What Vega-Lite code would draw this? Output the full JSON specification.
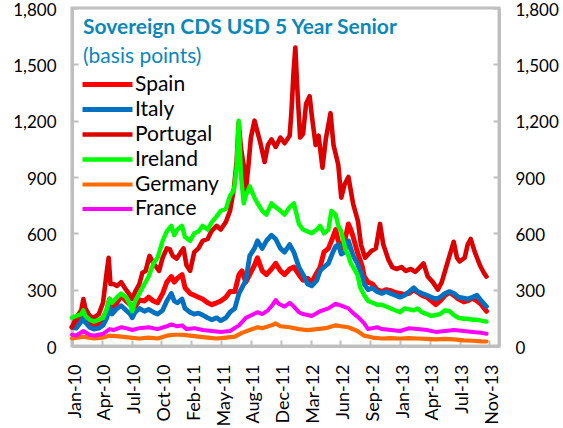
{
"$schema": "https://vega.github.io/schema/vega-lite/v6.json",
"width": 427, "height": 338,
"autosize": {"type": "none"},
"padding": {"left": 72, "top": 8, "right": 64, "bottom": 82},
"background": "white",
"config": {"view": {"stroke": "#BFBFBF", "strokeWidth": 3}, "font": "Lato"},
"title": {"text": "Sovereign CDS USD 5 Year Senior", "subtitle": "(basis points)", "anchor": "start", "frame": "group", "orient": "top", "offset": -66, "dx": 11, "font": "Lato", "fontSize": 21, "fontWeight": "bold", "color": "#0B87B8", "subtitleFont": "Lato", "subtitleFontSize": 21, "subtitleColor": "#0B87B8", "subtitlePadding": 8},
"data": {"values": [
{"d":"2010-01-01","c":"Spain","v":100},{"d":"2010-01-15","c":"Spain","v":110},{"d":"2010-02-01","c":"Spain","v":150},{"d":"2010-02-08","c":"Spain","v":170},{"d":"2010-02-15","c":"Spain","v":140},{"d":"2010-03-01","c":"Spain","v":120},{"d":"2010-03-15","c":"Spain","v":110},{"d":"2010-04-01","c":"Spain","v":120},{"d":"2010-04-15","c":"Spain","v":150},{"d":"2010-04-28","c":"Spain","v":190},{"d":"2010-05-07","c":"Spain","v":250},{"d":"2010-05-15","c":"Spain","v":200},{"d":"2010-06-01","c":"Spain","v":230},{"d":"2010-06-15","c":"Spain","v":270},{"d":"2010-07-01","c":"Spain","v":240},{"d":"2010-07-15","c":"Spain","v":220},{"d":"2010-08-01","c":"Spain","v":210},{"d":"2010-08-15","c":"Spain","v":245},{"d":"2010-09-01","c":"Spain","v":240},{"d":"2010-09-15","c":"Spain","v":260},{"d":"2010-10-01","c":"Spain","v":240},{"d":"2010-10-15","c":"Spain","v":230},{"d":"2010-11-01","c":"Spain","v":280},{"d":"2010-11-15","c":"Spain","v":340},{"d":"2010-11-30","c":"Spain","v":370},{"d":"2010-12-10","c":"Spain","v":340},{"d":"2010-12-20","c":"Spain","v":360},{"d":"2011-01-05","c":"Spain","v":380},{"d":"2011-01-15","c":"Spain","v":310},{"d":"2011-02-01","c":"Spain","v":280},{"d":"2011-02-15","c":"Spain","v":270},{"d":"2011-03-01","c":"Spain","v":260},{"d":"2011-03-15","c":"Spain","v":250},{"d":"2011-04-01","c":"Spain","v":230},{"d":"2011-04-15","c":"Spain","v":220},{"d":"2011-05-01","c":"Spain","v":230},{"d":"2011-05-15","c":"Spain","v":240},{"d":"2011-06-01","c":"Spain","v":260},{"d":"2011-06-15","c":"Spain","v":290},{"d":"2011-07-01","c":"Spain","v":290},{"d":"2011-07-15","c":"Spain","v":380},{"d":"2011-07-25","c":"Spain","v":400},{"d":"2011-08-07","c":"Spain","v":340},{"d":"2011-08-20","c":"Spain","v":380},{"d":"2011-09-05","c":"Spain","v":430},{"d":"2011-09-15","c":"Spain","v":470},{"d":"2011-10-01","c":"Spain","v":400},{"d":"2011-10-15","c":"Spain","v":380},{"d":"2011-11-01","c":"Spain","v":410},{"d":"2011-11-15","c":"Spain","v":440},{"d":"2011-12-01","c":"Spain","v":400},{"d":"2011-12-15","c":"Spain","v":380},{"d":"2012-01-01","c":"Spain","v":410},{"d":"2012-01-15","c":"Spain","v":420},{"d":"2012-02-01","c":"Spain","v":380},{"d":"2012-02-15","c":"Spain","v":350},{"d":"2012-03-01","c":"Spain","v":360},{"d":"2012-03-15","c":"Spain","v":340},{"d":"2012-04-01","c":"Spain","v":390},{"d":"2012-04-12","c":"Spain","v":420},{"d":"2012-04-25","c":"Spain","v":500},{"d":"2012-05-10","c":"Spain","v":520},{"d":"2012-05-25","c":"Spain","v":580},{"d":"2012-06-03","c":"Spain","v":620},{"d":"2012-06-12","c":"Spain","v":560},{"d":"2012-06-22","c":"Spain","v":520},{"d":"2012-07-05","c":"Spain","v":570},{"d":"2012-07-16","c":"Spain","v":650},{"d":"2012-07-24","c":"Spain","v":620},{"d":"2012-08-01","c":"Spain","v":580},{"d":"2012-08-15","c":"Spain","v":500},{"d":"2012-09-01","c":"Spain","v":420},{"d":"2012-09-07","c":"Spain","v":370},{"d":"2012-09-20","c":"Spain","v":340},{"d":"2012-10-05","c":"Spain","v":330},{"d":"2012-10-20","c":"Spain","v":300},{"d":"2012-11-05","c":"Spain","v":290},{"d":"2012-11-20","c":"Spain","v":300},{"d":"2012-12-05","c":"Spain","v":295},{"d":"2012-12-20","c":"Spain","v":285},{"d":"2013-01-05","c":"Spain","v":280},{"d":"2013-01-20","c":"Spain","v":275},{"d":"2013-02-05","c":"Spain","v":280},{"d":"2013-02-20","c":"Spain","v":300},{"d":"2013-03-05","c":"Spain","v":285},{"d":"2013-03-20","c":"Spain","v":270},{"d":"2013-04-05","c":"Spain","v":260},{"d":"2013-04-20","c":"Spain","v":240},{"d":"2013-05-05","c":"Spain","v":220},{"d":"2013-05-20","c":"Spain","v":240},{"d":"2013-06-05","c":"Spain","v":270},{"d":"2013-06-20","c":"Spain","v":285},{"d":"2013-07-05","c":"Spain","v":270},{"d":"2013-07-20","c":"Spain","v":250},{"d":"2013-08-07","c":"Spain","v":235},{"d":"2013-08-20","c":"Spain","v":240},{"d":"2013-09-05","c":"Spain","v":255},{"d":"2013-09-20","c":"Spain","v":240},{"d":"2013-10-05","c":"Spain","v":220},{"d":"2013-10-22","c":"Spain","v":185},
{"d":"2010-01-01","c":"Italy","v":100},{"d":"2010-01-15","c":"Italy","v":95},{"d":"2010-02-01","c":"Italy","v":130},{"d":"2010-02-08","c":"Italy","v":150},{"d":"2010-02-15","c":"Italy","v":125},{"d":"2010-03-01","c":"Italy","v":100},{"d":"2010-03-15","c":"Italy","v":90},{"d":"2010-04-01","c":"Italy","v":95},{"d":"2010-04-15","c":"Italy","v":110},{"d":"2010-04-28","c":"Italy","v":150},{"d":"2010-05-07","c":"Italy","v":210},{"d":"2010-05-15","c":"Italy","v":170},{"d":"2010-06-01","c":"Italy","v":200},{"d":"2010-06-15","c":"Italy","v":215},{"d":"2010-07-01","c":"Italy","v":190},{"d":"2010-07-15","c":"Italy","v":170},{"d":"2010-07-22","c":"Italy","v":150},{"d":"2010-08-01","c":"Italy","v":180},{"d":"2010-08-15","c":"Italy","v":200},{"d":"2010-09-01","c":"Italy","v":185},{"d":"2010-09-15","c":"Italy","v":195},{"d":"2010-10-01","c":"Italy","v":180},{"d":"2010-10-15","c":"Italy","v":170},{"d":"2010-11-01","c":"Italy","v":190},{"d":"2010-11-15","c":"Italy","v":240},{"d":"2010-11-30","c":"Italy","v":280},{"d":"2010-12-10","c":"Italy","v":240},{"d":"2010-12-20","c":"Italy","v":230},{"d":"2011-01-05","c":"Italy","v":250},{"d":"2011-01-15","c":"Italy","v":200},{"d":"2011-02-01","c":"Italy","v":180},{"d":"2011-02-15","c":"Italy","v":170},{"d":"2011-03-01","c":"Italy","v":175},{"d":"2011-03-15","c":"Italy","v":165},{"d":"2011-04-01","c":"Italy","v":150},{"d":"2011-04-15","c":"Italy","v":140},{"d":"2011-05-01","c":"Italy","v":150},{"d":"2011-05-15","c":"Italy","v":135},{"d":"2011-06-01","c":"Italy","v":150},{"d":"2011-06-15","c":"Italy","v":180},{"d":"2011-07-01","c":"Italy","v":200},{"d":"2011-07-15","c":"Italy","v":280},{"d":"2011-07-25","c":"Italy","v":310},{"d":"2011-08-07","c":"Italy","v":350},{"d":"2011-08-20","c":"Italy","v":480},{"d":"2011-09-05","c":"Italy","v":520},{"d":"2011-09-15","c":"Italy","v":560},{"d":"2011-10-01","c":"Italy","v":520},{"d":"2011-10-15","c":"Italy","v":560},{"d":"2011-11-01","c":"Italy","v":590},{"d":"2011-11-15","c":"Italy","v":570},{"d":"2011-12-01","c":"Italy","v":520},{"d":"2011-12-15","c":"Italy","v":500},{"d":"2012-01-01","c":"Italy","v":540},{"d":"2012-01-15","c":"Italy","v":500},{"d":"2012-02-01","c":"Italy","v":420},{"d":"2012-02-15","c":"Italy","v":380},{"d":"2012-03-01","c":"Italy","v":330},{"d":"2012-03-15","c":"Italy","v":320},{"d":"2012-04-01","c":"Italy","v":350},{"d":"2012-04-12","c":"Italy","v":400},{"d":"2012-04-25","c":"Italy","v":420},{"d":"2012-05-10","c":"Italy","v":440},{"d":"2012-05-25","c":"Italy","v":500},{"d":"2012-06-03","c":"Italy","v":530},{"d":"2012-06-12","c":"Italy","v":540},{"d":"2012-06-22","c":"Italy","v":490},{"d":"2012-07-05","c":"Italy","v":500},{"d":"2012-07-16","c":"Italy","v":560},{"d":"2012-07-24","c":"Italy","v":520},{"d":"2012-08-01","c":"Italy","v":480},{"d":"2012-08-15","c":"Italy","v":440},{"d":"2012-09-01","c":"Italy","v":370},{"d":"2012-09-07","c":"Italy","v":330},{"d":"2012-09-20","c":"Italy","v":300},{"d":"2012-10-05","c":"Italy","v":310},{"d":"2012-10-20","c":"Italy","v":290},{"d":"2012-11-05","c":"Italy","v":280},{"d":"2012-11-20","c":"Italy","v":290},{"d":"2012-12-05","c":"Italy","v":280},{"d":"2012-12-20","c":"Italy","v":270},{"d":"2013-01-05","c":"Italy","v":260},{"d":"2013-01-20","c":"Italy","v":270},{"d":"2013-02-05","c":"Italy","v":290},{"d":"2013-02-20","c":"Italy","v":310},{"d":"2013-03-05","c":"Italy","v":290},{"d":"2013-03-20","c":"Italy","v":280},{"d":"2013-04-05","c":"Italy","v":270},{"d":"2013-04-20","c":"Italy","v":260},{"d":"2013-05-05","c":"Italy","v":250},{"d":"2013-05-20","c":"Italy","v":260},{"d":"2013-06-05","c":"Italy","v":280},{"d":"2013-06-20","c":"Italy","v":290},{"d":"2013-07-05","c":"Italy","v":280},{"d":"2013-07-20","c":"Italy","v":260},{"d":"2013-08-07","c":"Italy","v":255},{"d":"2013-08-20","c":"Italy","v":250},{"d":"2013-09-05","c":"Italy","v":260},{"d":"2013-09-20","c":"Italy","v":270},{"d":"2013-10-05","c":"Italy","v":240},{"d":"2013-10-22","c":"Italy","v":210},
{"d":"2010-01-01","c":"Portugal","v":100},{"d":"2010-01-15","c":"Portugal","v":150},{"d":"2010-02-01","c":"Portugal","v":190},{"d":"2010-02-08","c":"Portugal","v":250},{"d":"2010-02-15","c":"Portugal","v":200},{"d":"2010-03-01","c":"Portugal","v":160},{"d":"2010-03-15","c":"Portugal","v":150},{"d":"2010-04-01","c":"Portugal","v":170},{"d":"2010-04-15","c":"Portugal","v":230},{"d":"2010-04-28","c":"Portugal","v":400},{"d":"2010-05-04","c":"Portugal","v":470},{"d":"2010-05-10","c":"Portugal","v":330},{"d":"2010-05-20","c":"Portugal","v":330},{"d":"2010-06-01","c":"Portugal","v":320},{"d":"2010-06-15","c":"Portugal","v":340},{"d":"2010-07-01","c":"Portugal","v":300},{"d":"2010-07-15","c":"Portugal","v":270},{"d":"2010-07-22","c":"Portugal","v":250},{"d":"2010-08-01","c":"Portugal","v":290},{"d":"2010-08-15","c":"Portugal","v":330},{"d":"2010-08-25","c":"Portugal","v":390},{"d":"2010-09-05","c":"Portugal","v":400},{"d":"2010-09-18","c":"Portugal","v":480},{"d":"2010-10-01","c":"Portugal","v":440},{"d":"2010-10-11","c":"Portugal","v":420},{"d":"2010-10-20","c":"Portugal","v":400},{"d":"2010-11-01","c":"Portugal","v":470},{"d":"2010-11-15","c":"Portugal","v":520},{"d":"2010-11-25","c":"Portugal","v":515},{"d":"2010-12-05","c":"Portugal","v":480},{"d":"2010-12-18","c":"Portugal","v":465},{"d":"2011-01-01","c":"Portugal","v":500},{"d":"2011-01-10","c":"Portugal","v":520},{"d":"2011-01-20","c":"Portugal","v":430},{"d":"2011-02-01","c":"Portugal","v":400},{"d":"2011-02-15","c":"Portugal","v":500},{"d":"2011-03-01","c":"Portugal","v":520},{"d":"2011-03-15","c":"Portugal","v":560},{"d":"2011-04-01","c":"Portugal","v":570},{"d":"2011-04-13","c":"Portugal","v":610},{"d":"2011-05-01","c":"Portugal","v":640},{"d":"2011-05-15","c":"Portugal","v":620},{"d":"2011-06-01","c":"Portugal","v":660},{"d":"2011-06-15","c":"Portugal","v":720},{"d":"2011-06-28","c":"Portugal","v":840},{"d":"2011-07-07","c":"Portugal","v":980},{"d":"2011-07-14","c":"Portugal","v":1190},{"d":"2011-07-22","c":"Portugal","v":1050},{"d":"2011-07-31","c":"Portugal","v":960},{"d":"2011-08-07","c":"Portugal","v":830},{"d":"2011-08-15","c":"Portugal","v":950},{"d":"2011-08-24","c":"Portugal","v":1110},{"d":"2011-09-05","c":"Portugal","v":1200},{"d":"2011-09-15","c":"Portugal","v":1140},{"d":"2011-09-25","c":"Portugal","v":1080},{"d":"2011-10-09","c":"Portugal","v":980},{"d":"2011-10-20","c":"Portugal","v":1070},{"d":"2011-11-01","c":"Portugal","v":1100},{"d":"2011-11-15","c":"Portugal","v":1060},{"d":"2011-12-01","c":"Portugal","v":1110},{"d":"2011-12-15","c":"Portugal","v":1080},{"d":"2012-01-01","c":"Portugal","v":1120},{"d":"2012-01-07","c":"Portugal","v":1250},{"d":"2012-01-14","c":"Portugal","v":1460},{"d":"2012-01-20","c":"Portugal","v":1590},{"d":"2012-01-26","c":"Portugal","v":1390},{"d":"2012-02-05","c":"Portugal","v":1110},{"d":"2012-02-15","c":"Portugal","v":1130},{"d":"2012-02-25","c":"Portugal","v":1290},{"d":"2012-03-08","c":"Portugal","v":1330},{"d":"2012-03-15","c":"Portugal","v":1230},{"d":"2012-03-28","c":"Portugal","v":1070},{"d":"2012-04-07","c":"Portugal","v":1120},{"d":"2012-04-20","c":"Portugal","v":950},{"d":"2012-05-01","c":"Portugal","v":1100},{"d":"2012-05-17","c":"Portugal","v":1240},{"d":"2012-05-27","c":"Portugal","v":1070},{"d":"2012-06-12","c":"Portugal","v":965},{"d":"2012-06-22","c":"Portugal","v":790},{"d":"2012-07-03","c":"Portugal","v":860},{"d":"2012-07-16","c":"Portugal","v":900},{"d":"2012-08-01","c":"Portugal","v":755},{"d":"2012-08-17","c":"Portugal","v":665},{"d":"2012-08-27","c":"Portugal","v":540},{"d":"2012-09-10","c":"Portugal","v":470},{"d":"2012-09-30","c":"Portugal","v":505},{"d":"2012-10-16","c":"Portugal","v":520},{"d":"2012-10-30","c":"Portugal","v":650},{"d":"2012-11-10","c":"Portugal","v":540},{"d":"2012-11-27","c":"Portugal","v":460},{"d":"2012-12-10","c":"Portugal","v":420},{"d":"2012-12-24","c":"Portugal","v":410},{"d":"2013-01-10","c":"Portugal","v":420},{"d":"2013-01-25","c":"Portugal","v":400},{"d":"2013-02-10","c":"Portugal","v":410},{"d":"2013-02-25","c":"Portugal","v":395},{"d":"2013-03-10","c":"Portugal","v":415},{"d":"2013-03-25","c":"Portugal","v":440},{"d":"2013-04-08","c":"Portugal","v":370},{"d":"2013-04-25","c":"Portugal","v":340},{"d":"2013-05-12","c":"Portugal","v":300},{"d":"2013-05-25","c":"Portugal","v":340},{"d":"2013-06-07","c":"Portugal","v":410},{"d":"2013-06-20","c":"Portugal","v":480},{"d":"2013-07-04","c":"Portugal","v":555},{"d":"2013-07-15","c":"Portugal","v":470},{"d":"2013-07-24","c":"Portugal","v":450},{"d":"2013-08-10","c":"Portugal","v":470},{"d":"2013-08-20","c":"Portugal","v":540},{"d":"2013-08-30","c":"Portugal","v":570},{"d":"2013-09-13","c":"Portugal","v":500},{"d":"2013-09-30","c":"Portugal","v":430},{"d":"2013-10-15","c":"Portugal","v":385},{"d":"2013-10-22","c":"Portugal","v":370},
{"d":"2010-01-01","c":"Ireland","v":150},{"d":"2010-01-15","c":"Ireland","v":160},{"d":"2010-02-01","c":"Ireland","v":170},{"d":"2010-02-08","c":"Ireland","v":190},{"d":"2010-02-15","c":"Ireland","v":160},{"d":"2010-03-01","c":"Ireland","v":140},{"d":"2010-03-15","c":"Ireland","v":130},{"d":"2010-04-01","c":"Ireland","v":140},{"d":"2010-04-15","c":"Ireland","v":150},{"d":"2010-04-28","c":"Ireland","v":200},{"d":"2010-05-07","c":"Ireland","v":250},{"d":"2010-05-15","c":"Ireland","v":230},{"d":"2010-06-01","c":"Ireland","v":260},{"d":"2010-06-15","c":"Ireland","v":280},{"d":"2010-07-01","c":"Ireland","v":260},{"d":"2010-07-15","c":"Ireland","v":220},{"d":"2010-07-22","c":"Ireland","v":185},{"d":"2010-08-01","c":"Ireland","v":240},{"d":"2010-08-15","c":"Ireland","v":280},{"d":"2010-09-01","c":"Ireland","v":330},{"d":"2010-09-15","c":"Ireland","v":370},{"d":"2010-10-01","c":"Ireland","v":440},{"d":"2010-10-15","c":"Ireland","v":470},{"d":"2010-11-01","c":"Ireland","v":560},{"d":"2010-11-15","c":"Ireland","v":610},{"d":"2010-11-30","c":"Ireland","v":640},{"d":"2010-12-10","c":"Ireland","v":590},{"d":"2010-12-20","c":"Ireland","v":620},{"d":"2011-01-05","c":"Ireland","v":640},{"d":"2011-01-15","c":"Ireland","v":580},{"d":"2011-02-01","c":"Ireland","v":560},{"d":"2011-02-15","c":"Ireland","v":600},{"d":"2011-03-01","c":"Ireland","v":610},{"d":"2011-03-15","c":"Ireland","v":640},{"d":"2011-04-01","c":"Ireland","v":620},{"d":"2011-04-15","c":"Ireland","v":660},{"d":"2011-05-01","c":"Ireland","v":690},{"d":"2011-05-15","c":"Ireland","v":720},{"d":"2011-06-01","c":"Ireland","v":730},{"d":"2011-06-15","c":"Ireland","v":800},{"d":"2011-06-28","c":"Ireland","v":830},{"d":"2011-07-07","c":"Ireland","v":950},{"d":"2011-07-14","c":"Ireland","v":1200},{"d":"2011-07-22","c":"Ireland","v":900},{"d":"2011-07-31","c":"Ireland","v":760},{"d":"2011-08-07","c":"Ireland","v":800},{"d":"2011-08-20","c":"Ireland","v":850},{"d":"2011-09-05","c":"Ireland","v":790},{"d":"2011-09-15","c":"Ireland","v":760},{"d":"2011-10-01","c":"Ireland","v":720},{"d":"2011-10-15","c":"Ireland","v":700},{"d":"2011-11-01","c":"Ireland","v":760},{"d":"2011-11-15","c":"Ireland","v":740},{"d":"2011-12-01","c":"Ireland","v":720},{"d":"2011-12-15","c":"Ireland","v":700},{"d":"2012-01-01","c":"Ireland","v":740},{"d":"2012-01-15","c":"Ireland","v":760},{"d":"2012-02-01","c":"Ireland","v":650},{"d":"2012-02-15","c":"Ireland","v":620},{"d":"2012-03-01","c":"Ireland","v":610},{"d":"2012-03-15","c":"Ireland","v":600},{"d":"2012-04-01","c":"Ireland","v":620},{"d":"2012-04-12","c":"Ireland","v":640},{"d":"2012-04-25","c":"Ireland","v":600},{"d":"2012-05-10","c":"Ireland","v":620},{"d":"2012-05-20","c":"Ireland","v":720},{"d":"2012-06-03","c":"Ireland","v":700},{"d":"2012-06-12","c":"Ireland","v":640},{"d":"2012-06-22","c":"Ireland","v":610},{"d":"2012-07-05","c":"Ireland","v":520},{"d":"2012-07-16","c":"Ireland","v":480},{"d":"2012-07-24","c":"Ireland","v":440},{"d":"2012-08-01","c":"Ireland","v":420},{"d":"2012-08-15","c":"Ireland","v":380},{"d":"2012-08-25","c":"Ireland","v":310},{"d":"2012-09-07","c":"Ireland","v":270},{"d":"2012-09-20","c":"Ireland","v":240},{"d":"2012-10-05","c":"Ireland","v":230},{"d":"2012-10-20","c":"Ireland","v":220},{"d":"2012-11-05","c":"Ireland","v":220},{"d":"2012-11-20","c":"Ireland","v":210},{"d":"2012-12-05","c":"Ireland","v":200},{"d":"2012-12-20","c":"Ireland","v":190},{"d":"2013-01-05","c":"Ireland","v":180},{"d":"2013-01-20","c":"Ireland","v":200},{"d":"2013-02-05","c":"Ireland","v":195},{"d":"2013-02-20","c":"Ireland","v":190},{"d":"2013-03-05","c":"Ireland","v":200},{"d":"2013-03-20","c":"Ireland","v":180},{"d":"2013-04-05","c":"Ireland","v":170},{"d":"2013-04-20","c":"Ireland","v":160},{"d":"2013-05-05","c":"Ireland","v":165},{"d":"2013-05-20","c":"Ireland","v":170},{"d":"2013-06-05","c":"Ireland","v":190},{"d":"2013-06-20","c":"Ireland","v":185},{"d":"2013-07-05","c":"Ireland","v":165},{"d":"2013-07-20","c":"Ireland","v":150},{"d":"2013-08-07","c":"Ireland","v":145},{"d":"2013-08-20","c":"Ireland","v":145},{"d":"2013-09-05","c":"Ireland","v":140},{"d":"2013-09-20","c":"Ireland","v":140},{"d":"2013-10-05","c":"Ireland","v":135},{"d":"2013-10-22","c":"Ireland","v":130},
{"d":"2010-01-01","c":"Germany","v":40},{"d":"2010-02-08","c":"Germany","v":50},{"d":"2010-03-15","c":"Germany","v":40},{"d":"2010-04-15","c":"Germany","v":45},{"d":"2010-05-07","c":"Germany","v":55},{"d":"2010-06-15","c":"Germany","v":50},{"d":"2010-07-15","c":"Germany","v":45},{"d":"2010-08-15","c":"Germany","v":40},{"d":"2010-09-15","c":"Germany","v":45},{"d":"2010-10-15","c":"Germany","v":40},{"d":"2010-11-15","c":"Germany","v":55},{"d":"2010-12-10","c":"Germany","v":60},{"d":"2011-01-05","c":"Germany","v":60},{"d":"2011-02-01","c":"Germany","v":55},{"d":"2011-03-01","c":"Germany","v":50},{"d":"2011-04-01","c":"Germany","v":45},{"d":"2011-05-01","c":"Germany","v":40},{"d":"2011-06-01","c":"Germany","v":45},{"d":"2011-07-01","c":"Germany","v":50},{"d":"2011-07-25","c":"Germany","v":70},{"d":"2011-08-20","c":"Germany","v":85},{"d":"2011-09-15","c":"Germany","v":100},{"d":"2011-10-01","c":"Germany","v":95},{"d":"2011-11-01","c":"Germany","v":110},{"d":"2011-11-15","c":"Germany","v":120},{"d":"2011-12-01","c":"Germany","v":105},{"d":"2012-01-01","c":"Germany","v":100},{"d":"2012-02-01","c":"Germany","v":90},{"d":"2012-03-01","c":"Germany","v":85},{"d":"2012-04-01","c":"Germany","v":90},{"d":"2012-05-01","c":"Germany","v":95},{"d":"2012-06-03","c":"Germany","v":110},{"d":"2012-06-22","c":"Germany","v":105},{"d":"2012-07-16","c":"Germany","v":100},{"d":"2012-08-15","c":"Germany","v":80},{"d":"2012-09-07","c":"Germany","v":55},{"d":"2012-10-05","c":"Germany","v":45},{"d":"2012-11-05","c":"Germany","v":40},{"d":"2012-12-05","c":"Germany","v":42},{"d":"2013-01-05","c":"Germany","v":40},{"d":"2013-02-05","c":"Germany","v":42},{"d":"2013-03-05","c":"Germany","v":40},{"d":"2013-04-05","c":"Germany","v":38},{"d":"2013-05-05","c":"Germany","v":35},{"d":"2013-06-05","c":"Germany","v":38},{"d":"2013-07-05","c":"Germany","v":35},{"d":"2013-08-07","c":"Germany","v":30},{"d":"2013-09-05","c":"Germany","v":28},{"d":"2013-10-05","c":"Germany","v":25},{"d":"2013-10-22","c":"Germany","v":24},
{"d":"2010-01-01","c":"France","v":60},{"d":"2010-01-15","c":"France","v":55},{"d":"2010-02-08","c":"France","v":80},{"d":"2010-03-01","c":"France","v":60},{"d":"2010-03-15","c":"France","v":55},{"d":"2010-04-15","c":"France","v":65},{"d":"2010-05-07","c":"France","v":90},{"d":"2010-05-20","c":"France","v":85},{"d":"2010-06-15","c":"France","v":100},{"d":"2010-07-01","c":"France","v":95},{"d":"2010-07-22","c":"France","v":85},{"d":"2010-08-15","c":"France","v":95},{"d":"2010-09-15","c":"France","v":100},{"d":"2010-10-15","c":"France","v":90},{"d":"2010-11-15","c":"France","v":105},{"d":"2010-11-30","c":"France","v":115},{"d":"2010-12-20","c":"France","v":105},{"d":"2011-01-05","c":"France","v":110},{"d":"2011-01-20","c":"France","v":90},{"d":"2011-02-15","c":"France","v":95},{"d":"2011-03-15","c":"France","v":85},{"d":"2011-04-15","c":"France","v":80},{"d":"2011-05-15","c":"France","v":75},{"d":"2011-06-15","c":"France","v":80},{"d":"2011-07-15","c":"France","v":110},{"d":"2011-08-07","c":"France","v":150},{"d":"2011-08-20","c":"France","v":160},{"d":"2011-09-15","c":"France","v":180},{"d":"2011-10-01","c":"France","v":170},{"d":"2011-10-20","c":"France","v":190},{"d":"2011-11-05","c":"France","v":220},{"d":"2011-11-15","c":"France","v":245},{"d":"2011-11-25","c":"France","v":225},{"d":"2011-12-15","c":"France","v":210},{"d":"2012-01-01","c":"France","v":230},{"d":"2012-01-15","c":"France","v":210},{"d":"2012-02-01","c":"France","v":180},{"d":"2012-02-15","c":"France","v":170},{"d":"2012-03-01","c":"France","v":165},{"d":"2012-03-15","c":"France","v":160},{"d":"2012-04-12","c":"France","v":185},{"d":"2012-05-10","c":"France","v":200},{"d":"2012-06-03","c":"France","v":225},{"d":"2012-06-22","c":"France","v":215},{"d":"2012-07-16","c":"France","v":200},{"d":"2012-08-01","c":"France","v":175},{"d":"2012-08-20","c":"France","v":150},{"d":"2012-09-07","c":"France","v":120},{"d":"2012-09-20","c":"France","v":90},{"d":"2012-10-05","c":"France","v":95},{"d":"2012-10-20","c":"France","v":100},{"d":"2012-11-05","c":"France","v":90},{"d":"2012-12-05","c":"France","v":85},{"d":"2013-01-05","c":"France","v":80},{"d":"2013-02-05","c":"France","v":95},{"d":"2013-03-05","c":"France","v":90},{"d":"2013-04-05","c":"France","v":85},{"d":"2013-05-05","c":"France","v":75},{"d":"2013-06-05","c":"France","v":80},{"d":"2013-07-05","c":"France","v":85},{"d":"2013-08-07","c":"France","v":80},{"d":"2013-09-05","c":"France","v":75},{"d":"2013-10-05","c":"France","v":70},{"d":"2013-10-22","c":"France","v":65}
]},
"layer": [
{
"mark": {"type": "line", "strokeJoin": "round", "strokeCap": "round"},
"encoding": {
"x": {"field": "d", "type": "temporal", "scale": {"type": "utc", "domain": [{"year": 2010, "month": 1, "date": 1, "utc": true}, {"year": 2013, "month": 12, "date": 3, "utc": true}]},
 "axis": {"values": [
 {"year": 2010, "month": 1, "date": 1, "utc": true},
 {"year": 2010, "month": 4, "date": 11, "utc": true},
 {"year": 2010, "month": 7, "date": 20, "utc": true},
 {"year": 2010, "month": 10, "date": 28, "utc": true},
 {"year": 2011, "month": 2, "date": 5, "utc": true},
 {"year": 2011, "month": 5, "date": 16, "utc": true},
 {"year": 2011, "month": 8, "date": 24, "utc": true},
 {"year": 2011, "month": 12, "date": 2, "utc": true},
 {"year": 2012, "month": 3, "date": 11, "utc": true},
 {"year": 2012, "month": 6, "date": 19, "utc": true},
 {"year": 2012, "month": 9, "date": 27, "utc": true},
 {"year": 2013, "month": 1, "date": 5, "utc": true},
 {"year": 2013, "month": 4, "date": 15, "utc": true},
 {"year": 2013, "month": 7, "date": 24, "utc": true},
 {"year": 2013, "month": 11, "date": 1, "utc": true}],
 "labelExpr": "utcFormat(datum.value, '%b-%y')", "labelAngle": 270, "labelFont": "Lato", "labelFontSize": 18, "labelColor": "#000000", "domainColor": "#BFBFBF", "domainWidth": 3, "tickColor": "#BFBFBF", "tickWidth": 2, "tickSize": -6, "labelPadding": 24, "labelOffset": 3, "grid": false, "title": null, "labelOverlap": false, "labelFlush": false, "labelBound": false}},
"y": {"field": "v", "type": "quantitative", "scale": {"domain": [0, 1800], "nice": false},
 "axis": {"values": [0, 300, 600, 900, 1200, 1500, 1800], "format": ",.0f", "orient": "left", "labelFont": "Lato", "labelFontSize": 17, "labelColor": "#000000", "domainColor": "#BFBFBF", "domainWidth": 3, "tickColor": "#BFBFBF", "tickWidth": 2, "tickSize": -6, "labelPadding": 22, "labelOffset": 2, "grid": false, "title": null}},
"color": {"field": "c", "type": "nominal", "scale": {"domain": ["Spain", "Italy", "Portugal", "Ireland", "Germany", "France"], "range": ["#FF0000", "#0070C0", "#DC0000", "#00FF00", "#FF6A00", "#FF00FF"]},
 "legend": {"orient": "none", "legendX": 23, "legendY": 64, "title": null, "symbolType": "M-2.5,0H2.5", "symbolSize": 400, "symbolStrokeWidth": 4, "labelFont": "Lato", "labelFontSize": 21, "labelColor": "#000000", "rowPadding": 2, "labelOffset": 15}},
"strokeWidth": {"field": "c", "type": "nominal", "scale": {"domain": ["Spain", "Italy", "Portugal", "Ireland", "Germany", "France"], "range": [5, 4, 4, 4, 4, 4]},
 "legend": {"orient": "none", "legendX": 23, "legendY": 64, "title": null, "symbolType": "M-2.5,0H2.5", "symbolSize": 400, "labelFont": "Lato", "labelFontSize": 21, "labelColor": "#000000", "rowPadding": 2, "labelOffset": 15}}
}
},
{
"mark": {"type": "point", "opacity": 0},
"encoding": {
"y": {"field": "v", "type": "quantitative", "axis": {"values": [0, 300, 600, 900, 1200, 1500, 1800], "format": ",.0f", "orient": "right", "labelFont": "Lato", "labelFontSize": 17, "labelColor": "#000000", "domainColor": "#BFBFBF", "domainWidth": 3, "tickColor": "#BFBFBF", "tickWidth": 2, "tickSize": -6, "labelPadding": 22, "labelOffset": 2, "grid": false, "title": null}}
}
}
],
"resolve": {"axis": {"y": "independent"}}
}
